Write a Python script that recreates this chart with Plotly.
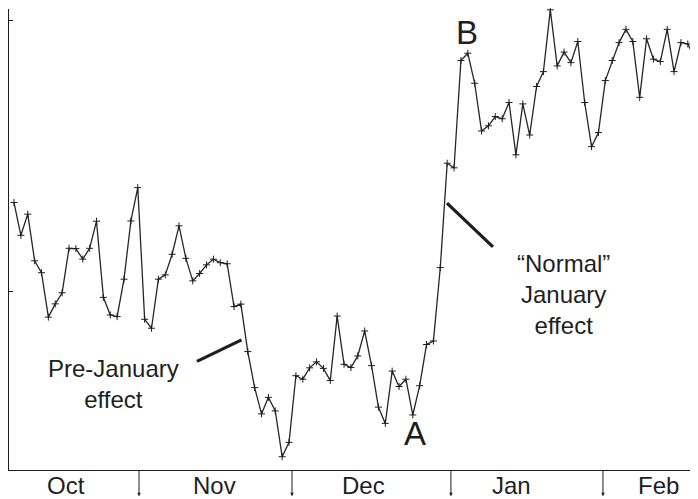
import plotly.graph_objects as go

# trading-day index and relative level
day = list(range(101))
level = [
    103.30, 102.09, 102.87, 101.15, 100.71, 99.07, 99.56, 99.97, 101.61, 101.60,
    101.21, 101.61, 102.61, 99.80, 99.15, 99.09, 100.47, 102.62, 103.85, 98.99,
    98.66, 100.47, 100.63, 101.39, 102.44, 101.24, 100.41, 100.68, 101.00, 101.21,
    101.08, 101.04, 99.46, 99.55, 97.80, 96.47, 95.50, 96.11, 95.61, 93.92,
    94.45, 96.91, 96.78, 97.20, 97.42, 97.18, 96.73, 99.11, 97.33, 97.21,
    97.64, 98.56, 97.28, 95.75, 95.15, 97.08, 96.51, 96.78, 95.46, 96.54,
    98.06, 98.19, 100.90, 104.75, 104.58, 108.54, 108.81, 107.70, 105.94, 106.13,
    106.47, 106.39, 106.99, 105.06, 106.94, 105.79, 107.58, 108.13, 110.41, 108.34,
    108.85, 108.46, 109.24, 106.99, 105.36, 105.88, 107.80, 108.54, 109.20, 109.69,
    109.24, 107.18, 109.34, 108.59, 108.50, 109.69, 108.13, 109.20, 109.15, 108.62,
    108.19,
]

month_breaks = [18.18, 40.43, 63.55, 85.66]
month_names = ['Oct', 'Nov', 'Dec', 'Jan', 'Feb']
month_label_pos = [7.49, 29.23, 50.9, 72.38, 93.76]

INK = '#1e1e1e'
FONT = 'Liberation Sans, Arial, sans-serif'

fig = go.Figure()
fig.add_trace(go.Scatter(
    x=day, y=level, mode='lines+markers',
    line=dict(color='#262626', width=1.3),
    marker=dict(symbol='cross-thin', size=5, line=dict(color=INK, width=1)),
    cliponaxis=False, hoverinfo='skip', showlegend=False))

# pointer lines for the two effects
fig.add_shape(type='line', x0=26.61, y0=97.44, x1=33.09, y1=98.23,
              line=dict(color=INK, width=3.2))
fig.add_shape(type='line', x0=62.97, y0=103.28, x1=69.66, y1=101.66,
              line=dict(color=INK, width=3.2))

notes = [
    dict(x=14.47, y=96.62, text='Pre-January<br>effect', size=24),
    dict(x=79.99, y=99.89, text='\u201cNormal\u201d<br>January<br>effect', size=24),
    dict(x=58.32, y=94.76, text='A', size=33),
    dict(x=65.88, y=109.56, text='B', size=33),
]
for n in notes:
    fig.add_annotation(x=n['x'], y=n['y'], text=n['text'], showarrow=False,
                       xanchor='center', yanchor='middle',
                       font=dict(family=FONT, size=n['size'], color=INK))

for name, pos in zip(month_names, month_label_pos):
    fig.add_annotation(x=pos, y=-0.033, xref='x', yref='paper', text=name,
                       showarrow=False, xanchor='center', yanchor='middle',
                       font=dict(family=FONT, size=24, color=INK))

# month separators with small arrow heads
for b in month_breaks:
    fig.add_annotation(x=b, y=-0.057, xref='x', yref='paper', text='',
                       showarrow=True, ax=0, ay=-27, arrowhead=2,
                       arrowsize=0.7, arrowwidth=1, arrowcolor=INK, standoff=0)

# page body has an 8px margin, so the figure is sized to fill the rest
fig.update_layout(
    width=690, height=491,
    margin=dict(l=1, r=0, t=1, b=29),
    paper_bgcolor='white', plot_bgcolor='white',
    showlegend=False,
    xaxis=dict(range=[-0.727, 99.48], showgrid=False, zeroline=False,
               showline=True, linecolor=INK, linewidth=1.3,
               showticklabels=False, ticks=''),
    yaxis=dict(range=[93.43, 110.44], showgrid=False, zeroline=False,
               showline=True, linecolor=INK, linewidth=1.3,
               tickvals=[100, 110], ticks='inside', ticklen=4,
               tickcolor=INK, showticklabels=False),
)

fig.write_html("out.html")
